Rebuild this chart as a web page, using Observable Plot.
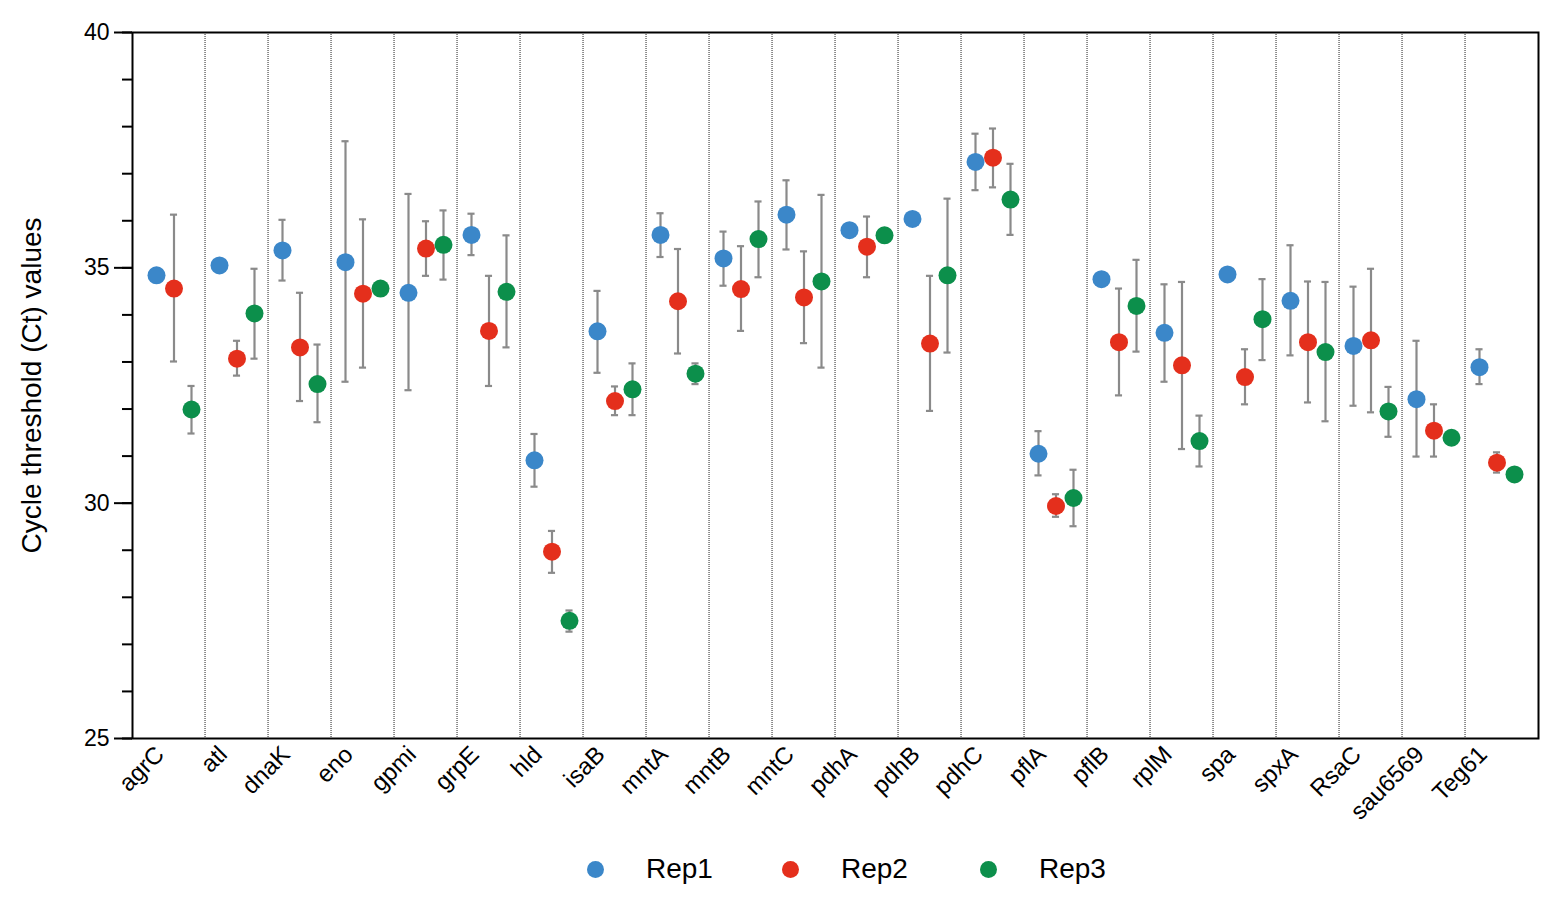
<!DOCTYPE html>
<html>
<head>
<meta charset="utf-8">
<script src="https://cdn.jsdelivr.net/npm/d3@7"></script>
<script src="https://cdn.jsdelivr.net/npm/@observablehq/plot@0.6"></script>
<style>
  body { margin: 0; background: #fff; font-family: "Liberation Sans", Arial, sans-serif; }
  #chart { position: relative; width: 1559px; }
  g[aria-label="y-axis tick label"], g[aria-label="y-axis tick label"] text { font-size: 23px !important; }
  g[aria-label="x-axis tick label"], g[aria-label="x-axis tick label"] text { font-size: 24px !important; }
  g[aria-label="y-axis label"], g[aria-label="y-axis label"] text { font-size: 28px !important; }
  .legend { position: relative; height: 40px; margin-top: 14px; font-size: 28px; color: #000; }
  .legend .item { position: absolute; top: 0; display: flex; align-items: center; height: 30px; }
  .legend .sw { width: 17px; height: 17px; border-radius: 50%; margin-right: 42px; }
</style>
</head>
<body>
<div id="chart"></div>
<script>
const genes = ["agrC","atl","dnaK","eno","gpmi","grpE","hld","isaB","mntA","mntB","mntC","pdhA","pdhB","pdhC","pflA","pflB","rplM","spa","spxA","RsaC","sau6569","Teg61"];
const reps = ["Rep1","Rep2","Rep3"];
const repColors = ["#3b87c9","#e42f1c","#0c8f4b"];
const yTicks = [25, 30, 35, 40];

const rep1 = [34.84,35.05,35.37,35.12,34.47,35.70,30.91,33.65,35.70,35.20,36.13,35.80,36.04,37.25,31.05,34.76,33.62,34.86,34.30,33.34,32.21,32.89];
const rep1Lo = [null,null,34.73,32.58,32.40,35.27,30.35,32.77,35.23,34.62,35.39,null,null,36.65,30.59,null,32.58,null,33.14,32.07,30.99,32.53];
const rep1Hi = [null,null,36.02,37.69,36.57,36.15,31.47,34.51,36.16,35.77,36.86,null,null,37.85,31.53,null,34.65,null,35.48,34.60,33.45,33.27];

const rep2 = [34.56,33.07,33.31,34.45,35.41,33.66,28.97,32.17,34.29,34.55,34.37,35.45,33.39,37.34,29.94,33.42,32.93,32.68,33.42,33.46,31.54,30.86];
const rep2Lo = [33.01,32.71,32.17,32.88,34.83,32.49,28.52,31.87,33.18,33.66,33.40,34.80,31.96,36.71,29.71,32.29,31.15,32.10,32.14,31.93,30.99,30.65];
const rep2Hi = [36.13,33.45,34.47,36.03,35.99,34.83,29.41,32.48,35.40,35.46,35.35,36.09,34.83,37.96,30.19,34.56,34.70,33.27,34.71,34.98,32.10,31.08];

const rep3 = [31.99,34.03,32.53,34.56,35.49,34.49,27.50,32.42,32.75,35.61,34.71,35.69,34.84,36.45,30.11,34.19,31.32,33.91,33.21,31.95,31.39,30.61];
const rep3Lo = [31.48,33.07,31.72,null,34.75,33.31,27.27,31.87,32.53,34.80,32.88,null,33.20,35.70,29.51,33.22,30.78,33.04,31.74,31.41,null,null];
const rep3Hi = [32.49,34.98,33.37,null,36.22,35.69,27.72,32.97,32.97,36.41,36.55,null,36.47,37.21,30.71,35.17,31.86,34.76,34.70,32.47,null,null];

const series = [[rep1, rep1Lo, rep1Hi],[rep2, rep2Lo, rep2Hi],[rep3, rep3Lo, rep3Hi]];
const rows = [];
reps.forEach((rep, k) => {
  const [m, lo, hi] = series[k];
  genes.forEach((g, i) => rows.push({gene: g, rep, ct: m[i], lo: lo[i], hi: hi[i]}));
});

const W = 1559, H = 840;
const mL = 132, mR = 21, mT = 32, mB = 102;
const bw = (W - mL - mR) / genes.length;
const offsets = [-17.5, 0, 17.5];
const capW = 8;
const errColor = "#8a8a8a";

const marks = [
  Plot.ruleX(genes.slice(1), {x: d => d, dx: -bw / 2, stroke: "#222", strokeWidth: 1, strokeDasharray: "1,1"}),
];
reps.forEach((rep, k) => {
  const withErr = rows.filter(d => d.rep === rep && d.lo != null);
  marks.push(
    Plot.ruleX(withErr, {x: "gene", y1: "lo", y2: "hi", dx: offsets[k], stroke: errColor, strokeWidth: 2.2}),
    Plot.tickY(withErr, {x: "gene", y: "lo", dx: offsets[k], insetLeft: (bw - capW) / 2, insetRight: (bw - capW) / 2, stroke: errColor, strokeWidth: 2.2}),
    Plot.tickY(withErr, {x: "gene", y: "hi", dx: offsets[k], insetLeft: (bw - capW) / 2, insetRight: (bw - capW) / 2, stroke: errColor, strokeWidth: 2.2}),
    Plot.dot(rows.filter(d => d.rep === rep), {x: "gene", y: "ct", fill: "rep", r: 9, dx: offsets[k]})
  );
});
marks.push(
  Plot.axisY({ticks: d3.range(25, 41), tickSize: 10, tickFormat: () => "", strokeWidth: 2, label: null}),
  Plot.axisY({ticks: yTicks, tickSize: 18, tickPadding: 5, fontSize: 23, strokeWidth: 2,
              label: "Cycle threshold (Ct) values", labelAnchor: "center", labelArrow: "none", labelOffset: 111}),
  Plot.axisX({tickSize: 0, tickRotate: -45, tickPadding: 12, dx: -14, fontSize: 24, label: null}),
  Plot.frame({stroke: "#000", strokeWidth: 2})
);

const chart = Plot.plot({
  width: W, height: H,
  marginLeft: mL, marginRight: mR, marginTop: mT, marginBottom: mB,
  style: {fontFamily: "'Liberation Sans', Arial, sans-serif", color: "#000", background: "#fff"},
  x: {type: "band", domain: genes, padding: 0},
  y: {domain: [25, 40]},
  color: {domain: reps, range: repColors},
  marks
});
document.getElementById("chart").appendChild(chart);

// legend (HTML, below the SVG)
const legend = document.createElement("div");
legend.className = "legend";
const legendLeft = [587, 782, 980];
reps.forEach((rep, k) => {
  const item = document.createElement("div");
  item.className = "item";
  item.style.left = legendLeft[k] + "px";
  const sw = document.createElement("span");
  sw.className = "sw";
  sw.style.background = repColors[k];
  const t = document.createElement("span");
  t.textContent = rep;
  item.appendChild(sw); item.appendChild(t);
  legend.appendChild(item);
});
document.getElementById("chart").appendChild(legend);
</script>
</body>
</html>
